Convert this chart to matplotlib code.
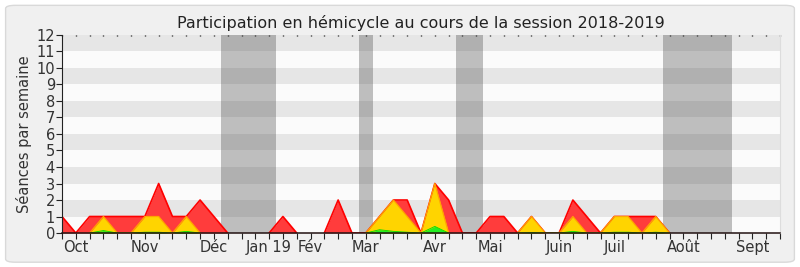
import numpy as np
from matplotlib import pyplot as plt
from matplotlib.patches import FancyBboxPatch

# Semaines de la session (index 0..52)
weeks = np.arange(53)

# Seances par semaine (total, rouge)
total = [1, 0, 1, 1, 1, 1, 1, 3, 1, 1, 2, 1, 0, 0, 0, 0, 1, 0, 0, 0,
         2, 0, 0, 1, 2, 2, 0, 3, 2, 0, 0, 1, 1, 0, 1, 0, 0, 2, 1, 0,
         1, 1, 1, 1, 0, 0, 0, 0, 0, 0, 0, 0, 0]

# Presences (jaune)
present = [0, 0, 0, 1, 0, 0, 1, 1, 0, 1, 0, 0, 0, 0, 0, 0, 0, 0, 0, 0,
           0, 0, 0, 1, 2, 1, 0, 3, 0, 0, 0, 0, 0, 0, 1, 0, 0, 1, 0, 0,
           1, 1, 0, 1, 0, 0, 0, 0, 0, 0, 0, 0, 0]

# Interventions (vert)
speak = [0, 0, 0, 0.15, 0, 0, 0.05, 0.05, 0, 0.1, 0, 0, 0, 0, 0, 0, 0, 0, 0, 0,
         0, 0, 0, 0.2, 0.1, 0.05, 0, 0.4, 0, 0, 0, 0, 0, 0, 0.03, 0, 0, 0.1, 0, 0,
         0.05, 0.05, 0, 0.05, 0, 0, 0, 0, 0, 0, 0, 0, 0]

# Vacances parlementaires (debut, fin en semaines)
holidays = [(11.5, 15.5), (21.5, 22.5), (28.5, 30.5), (43.5, 48.5)]

# Mois
month_pos = [1, 6, 11, 15, 18, 22, 27, 31, 36, 40, 45, 50]
month_labels = ["Oct", "Nov", "Déc", "Jan 19", "Fév", "Mar", "Avr", "Mai",
                "Juin", "Juil", "Août", "Sept"]


def edge(vals):
    # cache le trait le long de zero quand la serie est nulle
    v = np.array(vals, dtype=float)
    nz = v != 0
    keep = nz.copy()
    keep[1:] |= nz[:-1]
    keep[:-1] |= nz[1:]
    return np.where(keep, v, np.nan)


fig = plt.figure(figsize=(8, 2.67), dpi=100, facecolor='white')
fig.patches.append(FancyBboxPatch((0.007, 0.018), 0.986, 0.962,
                                  boxstyle="round,pad=0,rounding_size=0.012",
                                  transform=fig.transFigure, facecolor='#F0F0F0',
                                  edgecolor='#D9D9D9', linewidth=1, zorder=-10))

ax = fig.add_axes([0.0775, 0.1273, 0.8975, 0.7417])
ax.set_facecolor('#FBFBFB')

for i in range(12):
    ax.axhspan(i, i + 1, color='#E6E6E6' if i % 2 else '#FBFBFB', lw=0, zorder=0)
for a, b in holidays:
    ax.axvspan(a, b, color='#444444', alpha=0.33, lw=0, zorder=1)

ax.fill_between(weeks, total, color='#FF3C3C', lw=0, zorder=2)
ax.plot(weeks, edge(total), color='#FF0000', lw=1.2, zorder=3)
ax.fill_between(weeks, present, color='#FFD400', lw=0, zorder=4)
ax.plot(weeks, edge(present), color='#FFA500', lw=0.9, zorder=5)
ax.fill_between(weeks, speak, color='#22EE22', lw=0, zorder=6)
ax.plot(weeks, edge(speak), color='#00DD00', lw=0.6, zorder=7)

ax.set_xlim(0, 52)
ax.set_ylim(0, 12)
ax.set_yticks(range(13))
ax.set_xticks(weeks)
labels = [''] * len(weeks)
for p, m in zip(month_pos, month_labels):
    labels[p] = m
ax.set_xticklabels(labels)
ax.tick_params(axis='x', length=4, width=0.8, color='#222222', labelsize=10.5,
               labelcolor='#333333', pad=1)
ax.tick_params(axis='y', length=4, width=0.8, color='#222222', labelsize=10.5,
               labelcolor='#333333', pad=1)

top = ax.secondary_xaxis('top')
top.set_xticks(weeks)
top.set_xticklabels([])
top.tick_params(length=1, width=1, color='#111111', direction='in')
top.spines['top'].set_visible(False)

ax.spines['bottom'].set_color('#221111')
ax.spines['bottom'].set_linewidth(1.1)
ax.spines['left'].set_color('#222222')
ax.spines['right'].set_color('#DDDDDD')
ax.spines['top'].set_visible(False)
for s in ax.spines.values():
    s.set_zorder(10)

ax.set_ylabel("Séances par semaine", fontsize=10.5, color='#333333', labelpad=3)
ax.set_title("Participation en hémicycle au cours de la session 2018-2019",
             fontsize=11.5, color='#222222', pad=5)

fig.savefig('out.png', dpi=100, facecolor=fig.get_facecolor())
